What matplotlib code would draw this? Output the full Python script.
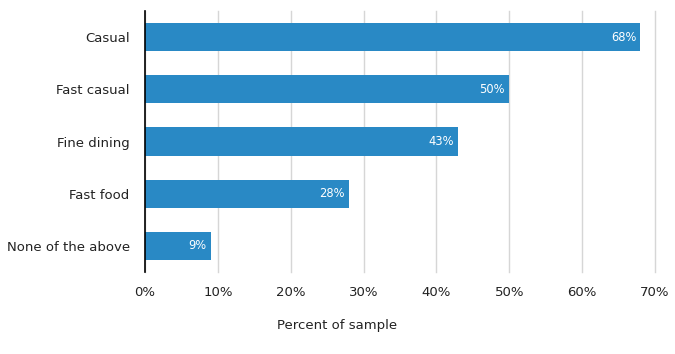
import matplotlib.pyplot as plt

# data
categories = ["Casual", "Fast casual", "Fine dining", "Fast food", "None of the above"]
values = [68, 50, 43, 28, 9]
xticks = [0, 10, 20, 30, 40, 50, 60, 70]

BAR_COLOR = "#2989c5"

plt.rcParams["font.family"] = ["DejaVu Sans"]

fig = plt.figure(figsize=(6.75, 3.54), dpi=100)
ax = fig.add_axes([145 / 675, 1 - 272 / 354, 510 / 675, 261 / 354])

ypos = list(range(len(categories)))
bars = ax.barh(ypos, values, height=0.54, color=BAR_COLOR, zorder=2)

for y, v in zip(ypos, values):
    ax.annotate(f"{v}%", xy=(v, y), xytext=(-3, 0), textcoords="offset points",
                ha="right", va="center", color="white", fontsize=8.3)

ax.set_yticks(ypos)
ax.set_yticklabels(categories, fontsize=9.5, color="#222222")
ax.set_ylim(len(categories) - 0.5, -0.5)

ax.set_xlim(0, 70)
ax.set_xticks(xticks)
ax.set_xticklabels([f"{t}%" for t in xticks], fontsize=9.5, color="#222222")
ax.grid(axis="x", color="#d6d6d6", linewidth=1, zorder=0)
for gl in ax.get_xgridlines():
    gl.set_clip_on(False)
ax.tick_params(length=0)
ax.tick_params(axis="x", pad=10)
ax.tick_params(axis="y", pad=11)

for side in ["top", "right", "bottom"]:
    ax.spines[side].set_visible(False)
ax.spines["left"].set_color("black")
ax.spines["left"].set_linewidth(1.2)
ax.spines["left"].set_zorder(3)

fig.text(0.5, 1 - 326 / 354, "Percent of sample", ha="center", va="center",
         fontsize=9.5, color="#222222")

fig.savefig("out.png", dpi=100)
